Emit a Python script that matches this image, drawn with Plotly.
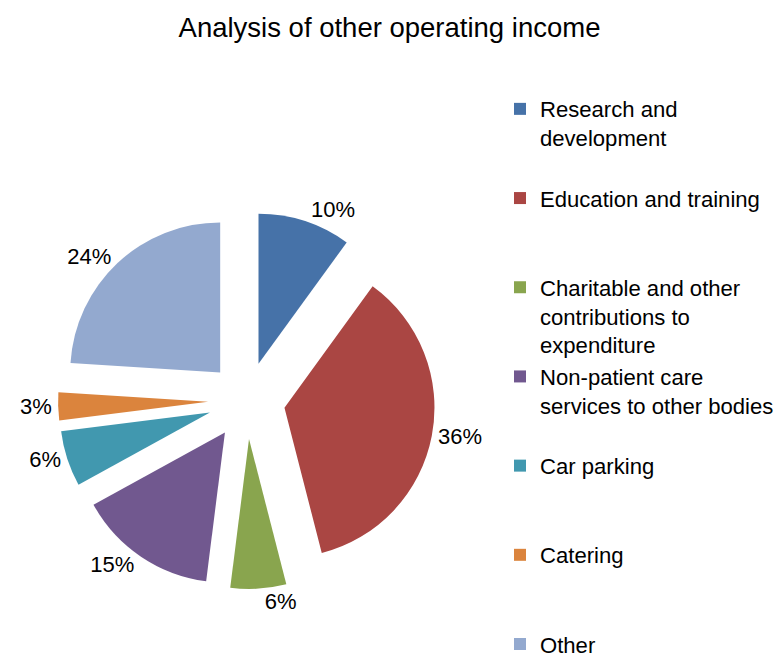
import plotly.graph_objects as go

# Share of other operating income by source (percent)
categories = [
    "Research and development",
    "Education and training",
    "Charitable and other contributions to expenditure",
    "Non-patient care services to other bodies",
    "Car parking",
    "Catering",
    "Other",
]
shares = [10, 36, 6, 15, 6, 3, 24]

# Wrapped legend text for each category
legend_lines = [
    ["Research and", "development"],
    ["Education and training"],
    ["Charitable and other", "contributions to", "expenditure"],
    ["Non-patient care", "services to other bodies"],
    ["Car parking"],
    ["Catering"],
    ["Other"],
]

colors = ["#4672A8", "#AA4643", "#89A54E", "#71588F", "#4198AF", "#DB843D", "#93A9CF"]

W, H = 784, 660

# Pad entries (all but the last) to three lines so they sit on an even pitch
legend_text = []
for i, lines in enumerate(legend_lines):
    if i < len(legend_lines) - 1:
        lines = lines + [" "] * (3 - len(lines))
    legend_text.append("<br>".join(lines))

# Pie placement (pixels): centre, radius and explode distance
cx, cy, r, pull = 246.6, 400.5, 150.0, 0.257
half = r * (1 + pull)

fig = go.Figure(
    go.Pie(
        labels=legend_text,
        values=shares,
        customdata=categories,
        sort=False,
        direction="clockwise",
        rotation=0,
        pull=[pull] * len(shares),
        marker=dict(colors=colors, line=dict(width=0)),
        texttemplate="%{value}%",
        textposition="outside",
        outsidetextfont=dict(size=22, color="#000000", family="Liberation Sans, Arial"),
        hovertemplate="%{customdata}: %{value}%<extra></extra>",
        domain=dict(
            x=[(cx - half) / W, (cx + half) / W],
            y=[(H - cy - half) / H, (H - cy + half) / H],
        ),
    )
)

fig.update_layout(
    width=W,
    height=H,
    margin=dict(l=0, r=0, t=0, b=0, autoexpand=False),
    paper_bgcolor="white",
    plot_bgcolor="white",
    font=dict(family="Liberation Sans, Arial", color="#000000"),
    title=dict(
        text="Analysis of other operating income",
        x=389.5 / W,
        xanchor="center",
        y=1 - 27 / H,
        yanchor="middle",
        yref="container",
        font=dict(size=27.5, color="#000000"),
    ),
    legend=dict(
        x=500 / W,
        xanchor="left",
        y=1 - 88 / H,
        yanchor="top",
        valign="top",
        font=dict(size=22.1, color="#000000"),
        bgcolor="rgba(0,0,0,0)",
        itemclick=False,
        itemdoubleclick=False,
    ),
    showlegend=True,
)

fig.write_html("out.html")
